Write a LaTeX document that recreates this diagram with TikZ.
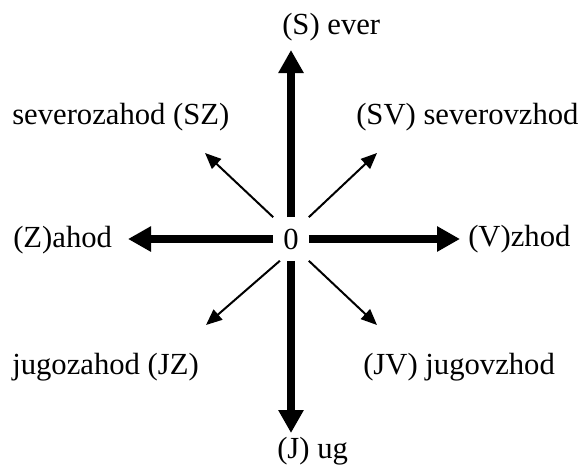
\documentclass[tikz,border=0pt]{standalone}
\usepackage{fontspec}
\setmainfont{Liberation Serif}
\usetikzlibrary{arrows.meta}
\tikzset{
  lbl/.style={anchor=base west, inner sep=0pt, font=\fontsize{23}{27}\selectfont},
  bigarrow/.style={line width=5.8pt, -{Triangle[length=17.25pt, width=18pt]}},
  smallarrow/.style={line width=1.5pt, -{Triangle[length=12pt, width=10pt]}}
}
\begin{document}
\begin{tikzpicture}[x=0.75pt, y=-0.75pt]
\useasboundingbox (0,0) rectangle (580,468);
\node[inner sep=0pt, minimum width=26.25pt, minimum height=32.25pt, font=\fontsize{23}{27}\selectfont] (o) at (291,239) {0};
\coordinate (tS) at (291,50);
\coordinate (tJ) at (291,433);
\coordinate (tZ) at (128,239);
\coordinate (tV) at (460,239);
\coordinate (tSV) at (377,153);
\coordinate (tSZ) at (205,153);
\coordinate (tJZ) at (206,325);
\coordinate (tJV) at (377,325);
\draw[bigarrow] (o.north) -- (tS);
\draw[bigarrow] (o.south) -- (tJ);
\draw[bigarrow] (o.west) -- (tZ);
\draw[bigarrow] (o.east) -- (tV);
\draw[smallarrow] (o.north east) -- (tSV);
\draw[smallarrow] (o.north west) -- (tSZ);
\draw[smallarrow] ([xshift=5pt]o.south west) -- (tJZ);
\draw[smallarrow] (o.south east) -- (tJV);
\node[lbl] (S) at (282,34) {(S) ever};
\node[lbl] (J) at (277,458) {(J) ug};
\node[lbl] (V) at (468,246) {(V)zhod};
\node[lbl] (Z) at (13,247) {(Z)ahod};
\node[lbl] (SZ) at (12,124) {severozahod (SZ)};
\node[lbl] (SV) at (356,124) {(SV) severovzhod};
\node[lbl] (JZ) at (12,374) {jugozahod (JZ)};
\node[lbl] (JV) at (363,374) {(JV) jugovzhod};
\end{tikzpicture}
\end{document}
